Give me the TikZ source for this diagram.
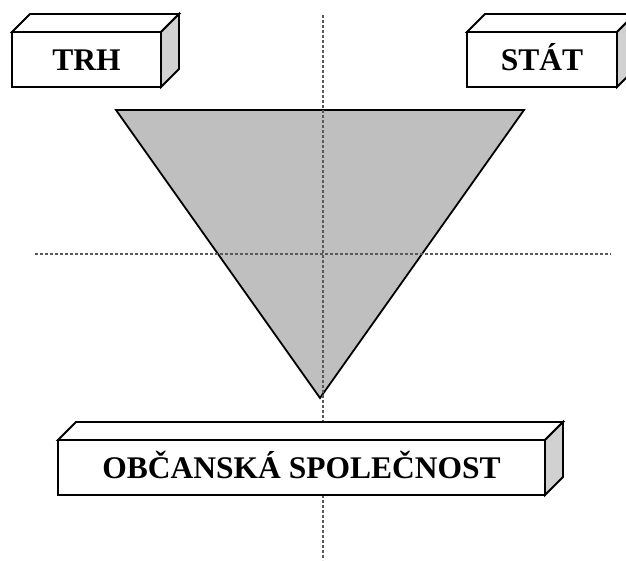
\documentclass[tikz,border=0pt]{standalone}
\usepackage{fontspec}
\setmainfont{Liberation Serif}
\usetikzlibrary{calc}

\tikzset{
  block/.style={draw, line width=1.8pt, fill=white, inner sep=0pt, outer sep=0pt,
    minimum height=55pt, text height=21pt, text depth=0pt,
    font=\fontsize{31.5}{36}\selectfont\bfseries},
  face/.style={draw, line width=1.8pt, line join=miter},
  axis/.style={draw=black!65, line width=1.1pt, dash pattern=on 3pt off 2pt}
}

\newcommand{\cuboid}[1]{%
  \draw[face, fill=white] (#1.north west) -- ++(18,-18)
    -- ($(#1.north east)+(18,-18)$) -- (#1.north east) -- cycle;
  \draw[face, fill=black!18] (#1.north east) -- ++(18,-18)
    -- ($(#1.south east)+(18,-18)$) -- (#1.south east) -- cycle;
}

\begin{document}
\begin{tikzpicture}[x=1pt, y=-1pt]
  \useasboundingbox (0,0) rectangle (626,560);

  % the funnel
  \coordinate (tl) at (116,110);
  \coordinate (tr) at (524,110);
  \coordinate (tip) at (320,398);
  \draw[line width=1.8pt, line join=miter, fill=black!25] (tl) -- (tr) -- (tip) -- cycle;

  % cross hairs
  \coordinate (vtop) at (323,15);
  \coordinate (vbot) at (323,560);
  \coordinate (hleft) at (35,254);
  \coordinate (hright) at (611,254);
  \draw[axis] (vtop) -- (vbot);
  \draw[axis] (hleft) -- (hright);

  % the three boxes
  \node[block, minimum width=149pt] (trh) at (86.5,59.5) {TRH};
  \cuboid{trh}
  \node[block, minimum width=150pt] (stat) at (542,59.5) {STÁT};
  \cuboid{stat}
  \node[block, minimum width=487pt] (obcan) at (301.5,467.5) {OBČANSKÁ SPOLEČNOST};
  \cuboid{obcan}
\end{tikzpicture}
\end{document}
